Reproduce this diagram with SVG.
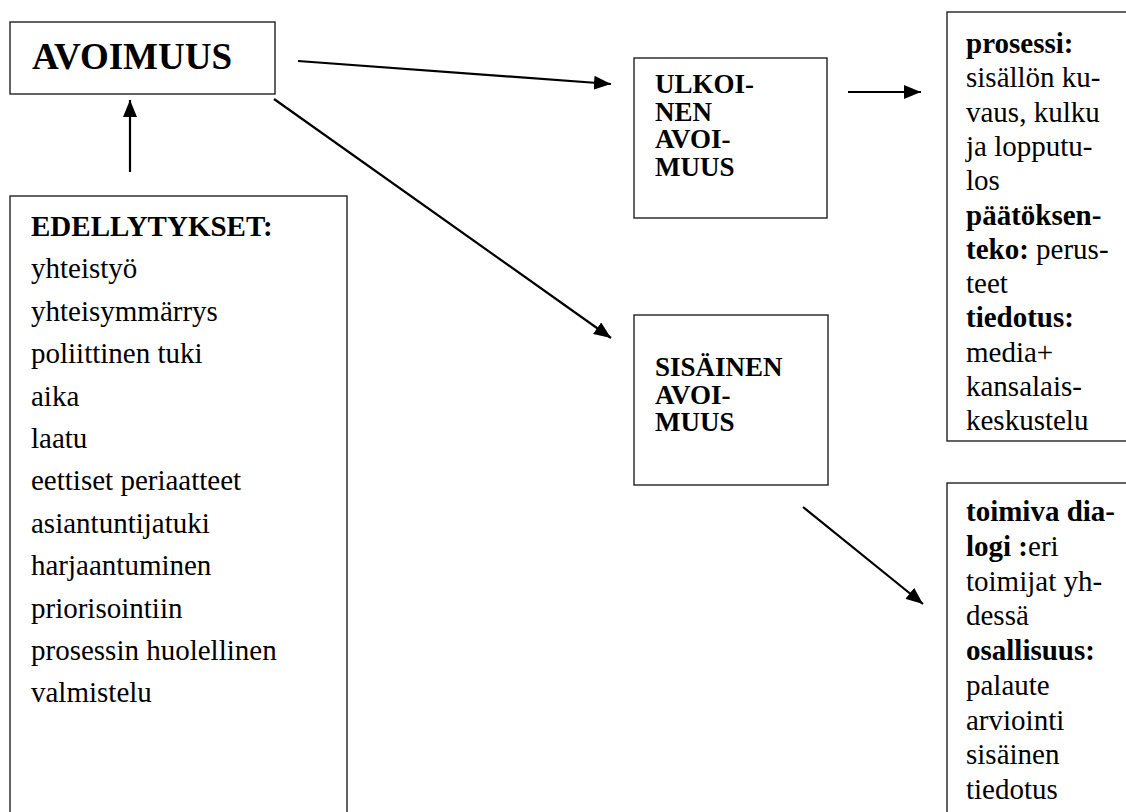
<svg xmlns="http://www.w3.org/2000/svg" width="1126" height="812" viewBox="0 0 1126 812" font-family="'Liberation Serif', 'Times New Roman', Tinos, 'Noto Serif', 'DejaVu Serif', serif">
<defs>
<marker id="ah" markerUnits="userSpaceOnUse" markerWidth="17" markerHeight="14" refX="17" refY="7" orient="auto">
<path d="M0,0 L17,7 L0,14 z" fill="#000"/>
</marker>
<style>
.box{fill:#fff;stroke:#222;stroke-width:1.4}
.t{font-family:'Liberation Serif','Times New Roman',Tinos,'Noto Serif','DejaVu Serif',serif;font-size:29px;fill:#000}
.b{font-weight:bold}
.lbl{font-size:27px}
.con{stroke:#000;stroke-width:2.2;fill:none;marker-end:url(#ah)}
</style>
</defs>
<rect width="1126" height="812" fill="#fff"/>
<g id="avoimuus">
<rect class="box" x="10" y="22" width="265" height="72"/>
<text class="t b" x="32" y="69" style="font-size:37px">AVOIMUUS</text>
</g>
<g id="edellytykset">
<rect class="box" x="10" y="196" width="337" height="640"/>
<text class="t">
<tspan class="b" x="31" y="236">EDELLYTYKSET:</tspan>
<tspan x="31" y="278.4">yhteistyö</tspan>
<tspan x="31" y="320.8">yhteisymmärrys</tspan>
<tspan x="31" y="363.2">poliittinen tuki</tspan>
<tspan x="31" y="405.6">aika</tspan>
<tspan x="31" y="448">laatu</tspan>
<tspan x="31" y="490.4">eettiset periaatteet</tspan>
<tspan x="31" y="532.8">asiantuntijatuki</tspan>
<tspan x="31" y="575.2">harjaantuminen</tspan>
<tspan x="31" y="617.6">priorisointiin</tspan>
<tspan x="31" y="660">prosessin huolellinen</tspan>
<tspan x="31" y="702.4">valmistelu</tspan>
</text>
</g>
<g id="ulkoinen">
<rect class="box" x="634" y="58" width="193" height="160"/>
<text class="t b lbl">
<tspan x="655" y="93">ULKOI-</tspan>
<tspan x="655" y="120.5">NEN</tspan>
<tspan x="655" y="148">AVOI-</tspan>
<tspan x="655" y="175.5">MUUS</tspan>
</text>
</g>
<g id="sisainen">
<rect class="box" x="634" y="315" width="194" height="170"/>
<text class="t b lbl">
<tspan x="655" y="376">SISÄINEN</tspan>
<tspan x="655" y="403.5">AVOI-</tspan>
<tspan x="655" y="431">MUUS</tspan>
</text>
</g>
<g id="ulkoinen-detail">
<rect class="box" x="947" y="12" width="200" height="429"/>
<text class="t">
<tspan x="966" y="53" class="b">prosessi:</tspan>
<tspan x="966" y="87.3">sisällön ku-</tspan>
<tspan x="966" y="121.6">vaus, kulku</tspan>
<tspan x="966" y="155.9">ja lopputu-</tspan>
<tspan x="966" y="190.2">los</tspan>
<tspan x="966" y="224.5" class="b">päätöksen-</tspan>
<tspan x="966" y="258.8"><tspan class="b">teko:</tspan> perus-</tspan>
<tspan x="966" y="293.1">teet</tspan>
<tspan x="966" y="327.4" class="b">tiedotus:</tspan>
<tspan x="966" y="361.7">media+</tspan>
<tspan x="966" y="396">kansalais-</tspan>
<tspan x="966" y="430.3">keskustelu</tspan>
</text>
</g>
<g id="sisainen-detail">
<rect class="box" x="947" y="483" width="200" height="360"/>
<text class="t">
<tspan x="966" y="521" class="b">toimiva dia-</tspan>
<tspan x="966" y="555.75"><tspan class="b">logi :</tspan>eri</tspan>
<tspan x="966" y="590.5">toimijat yh-</tspan>
<tspan x="966" y="625.25">dessä</tspan>
<tspan x="966" y="660" class="b">osallisuus:</tspan>
<tspan x="966" y="694.75">palaute</tspan>
<tspan x="966" y="729.5">arviointi</tspan>
<tspan x="966" y="764.25">sisäinen</tspan>
<tspan x="966" y="799">tiedotus</tspan>
</text>
</g>
<g id="connectors">
<line class="con" x1="130" y1="172" x2="130" y2="100"/>
<line class="con" x1="298" y1="61" x2="611" y2="84"/>
<line class="con" x1="274" y1="99" x2="611" y2="338"/>
<line class="con" x1="848" y1="92" x2="921" y2="92"/>
<line class="con" x1="803" y1="507" x2="923" y2="604"/>
</g>
</svg>
